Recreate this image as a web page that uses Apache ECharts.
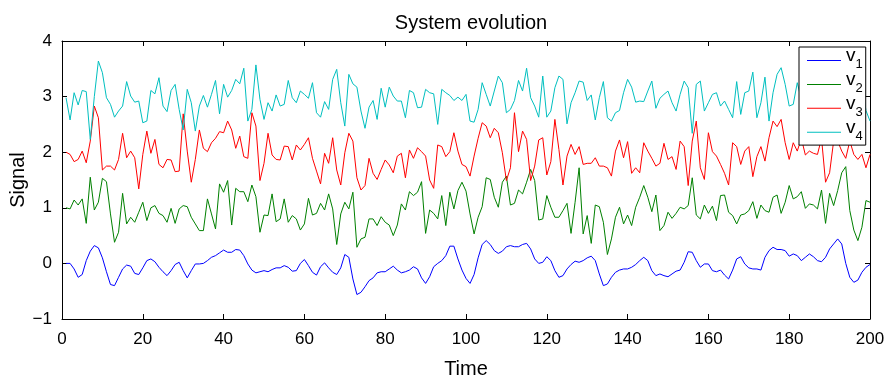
<!DOCTYPE html>
<html>
<head>
<meta charset="utf-8">
<script src="https://cdn.jsdelivr.net/npm/echarts@6/dist/echarts.min.js"></script>
<style>
html, body { margin: 0; padding: 0; background: #fff; }
#chart { width: 884px; height: 379px; }
</style>
</head>
<body>
<div id="chart"></div>
<script>
// ---- data (t = 1..200) ----
const v1 = [
  0.0, 0.0, -0.1, -0.25, -0.2, 0.05, 0.22, 0.32, 0.28, 0.1,
  -0.15, -0.38, -0.4, -0.25, -0.1, -0.03, -0.05, -0.18, -0.2, -0.08,
  0.05, 0.08, 0.03, -0.07, -0.15, -0.22, -0.13, -0.02, 0.02, -0.13,
  -0.26, -0.13, -0.01, -0.01, 0.0, 0.05, 0.11, 0.14, 0.19, 0.24,
  0.2, 0.2, 0.25, 0.24, 0.14, -0.01, -0.12, -0.17, -0.15, -0.13,
  -0.15, -0.11, -0.08, -0.08, -0.04, -0.07, -0.14, -0.13, 0.0, 0.07,
  -0.04, -0.16, -0.21, -0.06, 0.01, -0.08, -0.16, -0.2, -0.08, 0.16,
  0.11, -0.28, -0.56, -0.52, -0.42, -0.31, -0.26, -0.17, -0.15, -0.15,
  -0.1, -0.05, -0.12, -0.17, -0.15, -0.12, -0.06, -0.1, -0.26, -0.36,
  -0.24, -0.06, 0.0, 0.05, 0.14, 0.31, 0.31, 0.08, -0.12, -0.27,
  -0.36, -0.2, 0.1, 0.34, 0.41, 0.34, 0.23, 0.18, 0.22, 0.3,
  0.32, 0.3, 0.3, 0.34, 0.36, 0.26, 0.08, 0.0, 0.02, 0.12,
  0.05, -0.13, -0.25, -0.22, -0.1, -0.02, 0.04, 0.02, 0.05, 0.1,
  0.13, 0.05, -0.19, -0.4, -0.37, -0.25, -0.16, -0.12, -0.1, -0.1,
  -0.07, -0.02, 0.05, 0.11, 0.05, -0.13, -0.22, -0.19, -0.22, -0.24,
  -0.19, -0.14, -0.12, 0.02, 0.21, 0.2, 0.05, -0.07, -0.01, -0.01,
  -0.13, -0.15, -0.12, -0.21, -0.28, -0.12, 0.08, 0.12, -0.01, -0.08,
  -0.1, -0.1, -0.12, 0.11, 0.23, 0.29, 0.25, 0.25, 0.23, 0.13,
  0.17, 0.14, 0.05, 0.11, 0.17, 0.12, 0.05, 0.03, 0.11, 0.26,
  0.35, 0.44, 0.35, 0.0, -0.25, -0.34, -0.3, -0.16, -0.07, -0.02
];
const v2 = [
  1.0, 0.98, 1.14, 1.05, 1.16, 0.72, 1.55, 0.96, 1.1, 1.53,
  1.47, 0.89, 0.38, 0.56, 1.26, 0.71, 0.83, 0.74, 0.92, 1.1,
  0.77, 1.0, 1.04, 0.9, 0.86, 0.74, 0.99, 0.72, 0.98, 1.04,
  1.02, 0.83, 0.71, 0.59, 0.59, 1.16, 0.89, 0.62, 1.43, 1.28,
  1.49, 0.69, 1.35, 1.29, 1.29, 1.11, 1.41, 1.2, 0.56, 0.87,
  0.86, 1.25, 0.75, 0.8, 1.16, 0.74, 0.86, 0.8, 0.6, 0.71,
  1.17, 0.87, 0.9, 1.08, 0.96, 1.25, 0.98, 0.34, 0.89, 1.1,
  0.98, 1.28, 0.29, 0.44, 0.47, 0.8, 0.8, 0.68, 0.84, 0.74,
  0.69, 0.5, 0.69, 1.07, 0.96, 1.29, 1.22, 1.28, 1.47, 0.54,
  0.96, 0.9, 0.8, 1.22, 0.68, 1.28, 0.98, 1.31, 1.46, 1.3,
  0.89, 0.53, 0.83, 1.02, 1.54, 1.51, 1.19, 1.01, 1.46, 1.57,
  1.05, 1.08, 1.32, 1.25, 1.46, 1.69, 1.49, 0.78, 0.8, 1.22,
  1.01, 0.83, 0.83, 0.95, 1.08, 0.54, 1.1, 1.72, 0.53, 0.86,
  0.36, 1.05, 1.02, 0.74, 0.16, 0.44, 0.83, 1.01, 0.71, 0.87,
  0.68, 1.01, 1.19, 1.4, 1.19, 0.93, 1.23, 0.59, 0.68, 0.92,
  0.81, 0.9, 1.01, 0.98, 1.04, 1.54, 0.87, 0.8, 1.05, 0.9,
  1.03, 0.77, 1.22, 1.23, 0.92, 0.86, 0.71, 0.87, 0.89, 0.95,
  1.11, 0.81, 1.05, 0.95, 0.92, 1.19, 1.23, 0.9, 1.1, 1.4,
  1.16, 1.2, 1.29, 0.99, 1.07, 1.05, 0.98, 1.32, 0.72, 1.26,
  1.04, 1.31, 1.63, 1.74, 0.95, 0.6, 0.41, 0.65, 1.13, 1.1
];
const v3 = [
  2.0, 1.96, 1.83, 1.87, 2.02, 1.81, 2.2, 2.83, 2.62, 1.68,
  1.75, 1.75, 1.68, 1.87, 2.34, 1.9, 2.02, 1.9, 1.34, 1.96,
  2.38, 1.98, 2.23, 1.78, 1.72, 1.87, 1.86, 1.65, 1.66, 2.69,
  2.02, 1.46, 1.87, 2.4, 2.07, 2.01, 2.17, 2.25, 2.37, 2.35,
  2.56, 2.4, 2.07, 2.29, 1.92, 1.89, 2.71, 2.47, 1.49, 1.8,
  2.34, 1.95, 1.87, 1.86, 2.11, 2.1, 1.86, 2.13, 2.04, 2.14,
  2.26, 1.89, 1.66, 1.43, 1.98, 1.8, 2.26, 1.68, 1.41, 1.99,
  2.34, 2.2, 1.54, 1.32, 1.4, 1.89, 1.62, 1.51, 1.69, 1.86,
  1.77, 1.63, 1.93, 1.98, 1.54, 2.04, 1.89, 2.08, 2.01, 1.93,
  1.5, 1.35, 2.13, 2.1, 1.92, 2.01, 2.35, 2.02, 1.78, 1.74,
  1.57, 1.93, 2.25, 2.53, 2.47, 2.26, 2.43, 2.35, 1.99, 1.49,
  1.72, 2.71, 2.01, 2.38, 2.23, 1.49, 1.75, 2.22, 2.26, 1.59,
  1.83, 2.59, 2.05, 1.41, 1.93, 2.14, 1.96, 2.1, 1.78, 1.8,
  1.8, 1.9, 1.75, 1.75, 1.72, 1.57, 2.02, 2.22, 1.9, 2.19,
  1.62, 1.72, 1.63, 2.17, 2.02, 1.89, 1.75, 1.8, 2.16, 1.87,
  1.92, 1.69, 2.2, 2.1, 1.4, 2.2, 2.56, 1.72, 1.51, 2.35,
  2.01, 1.93, 1.78, 1.62, 1.41, 2.17, 2.1, 1.78, 2.02, 2.1,
  1.56, 1.92, 2.1, 1.84, 2.26, 2.56, 2.46, 2.59, 2.17, 1.87,
  2.17, 2.02, 2.25, 1.95, 2.02, 1.98, 1.96, 2.25, 1.46, 1.63,
  2.2, 2.2, 2.02, 1.89, 2.2, 1.96, 1.87, 1.96, 1.72, 1.96
];
const v4 = [
  2.98, 2.58, 3.07, 2.85, 3.11, 3.09, 2.23, 3.0, 3.64, 3.43,
  2.98, 2.86, 2.63, 2.74, 2.83, 3.27, 3.01, 2.9, 2.92, 2.53,
  2.56, 3.11, 3.05, 3.34, 2.83, 2.73, 3.11, 3.22, 2.77, 2.4,
  3.13, 2.89, 2.38, 2.83, 3.02, 2.81, 3.04, 3.29, 2.69, 3.22,
  2.99, 3.11, 3.31, 3.23, 3.51, 2.56, 2.77, 3.57, 2.95, 2.59,
  2.89, 2.74, 3.03, 2.83, 2.86, 3.29, 2.98, 2.89, 3.1, 3.04,
  2.97, 3.25, 2.71, 2.63, 2.91, 2.77, 3.31, 3.49, 2.89, 2.47,
  3.4, 3.23, 3.17, 2.74, 2.43, 2.81, 2.93, 2.59, 3.15, 2.81,
  3.17, 3.01, 2.92, 2.92, 2.62, 3.11, 3.07, 2.8, 2.81, 3.13,
  3.07, 3.05, 2.5, 3.13, 3.07, 3.02, 2.93, 2.99, 2.93, 3.04,
  2.56, 2.54, 2.77, 3.25, 3.04, 2.83, 3.1, 3.37, 3.25, 2.71,
  2.77, 2.93, 3.29, 3.1, 3.51, 2.98, 2.83, 2.63, 3.37, 2.63,
  2.74, 3.16, 3.37, 3.31, 2.51, 2.89, 3.07, 3.28, 3.26, 2.93,
  3.03, 2.58, 2.98, 3.27, 2.62, 2.56, 2.71, 2.75, 3.07, 3.31,
  3.17, 2.9, 2.92, 2.91, 3.1, 3.28, 2.79, 2.97, 3.04, 3.1,
  2.89, 2.74, 3.04, 3.28, 3.16, 2.34, 3.22, 3.28, 2.74, 2.89,
  3.04, 3.07, 2.83, 2.92, 2.77, 2.62, 3.27, 2.68, 3.07, 3.1,
  3.44, 2.62, 2.89, 3.35, 2.56, 3.07, 3.4, 3.52, 3.22, 2.83,
  2.86, 3.25, 2.95, 3.1, 2.8, 3.2, 3.0, 2.9, 3.3, 2.85,
  3.05, 3.15, 2.9, 3.2, 2.95, 3.1, 2.8, 3.25, 2.75, 2.56
];
const seriesNames = ['v1', 'v2', 'v3', 'v4'];
const seriesColors = ['#0000ff', '#008000', '#ff0000', '#00bfbf'];
const xRange = [0, 200, 20];   // min, max, interval
const yRange = [-1, 4, 1];

const FONT = "'Liberation Sans', Arial, sans-serif";

function toPoints(arr) {
  return arr.map((y, i) => [i + 1, y]);
}

const chart = echarts.init(document.getElementById('chart'), null, { renderer: 'canvas' });

const tickStyle = { inside: true, length: 5, lineStyle: { color: '#000', width: 1 } };
const lineStyle = { show: true, onZero: false, lineStyle: { color: '#000', width: 1 } };

const option = {
  animation: false,
  backgroundColor: '#fff',
  textStyle: { fontFamily: FONT },
  title: {
    text: 'System evolution',
    left: 466,
    textAlign: 'center',
    top: 8,
    textStyle: { fontFamily: FONT, fontSize: 20, fontWeight: 'normal', color: '#000' }
  },
  grid: {
    left: 62, top: 41, width: 808, height: 278,
    containLabel: false, outerBoundsMode: 'none'
  },
  legend: {
    data: seriesNames,
    orient: 'vertical',
    left: 799,
    top: 47,
    padding: [-0.3, 3, 2.1, 8],
    itemGap: -0.7,
    itemWidth: 34,
    itemHeight: 1,
    icon: 'rect',
    backgroundColor: '#fff',
    borderColor: '#000',
    borderWidth: 1,
    borderRadius: 0,
    z: 10,
    // "v" with a subscript index
    formatter: name => '{b|v}{s|' + name.slice(1) + '}',
    textStyle: {
      fontFamily: FONT,
      color: '#000',
      rich: {
        b: { fontSize: 19, height: 2, lineHeight: 4.4, padding: [0, 0, 8.6, 0], verticalAlign: 'middle', fontFamily: FONT },
        s: { fontSize: 13, lineHeight: 4.4, padding: [8.6, 0, 0, 0], verticalAlign: 'middle', fontFamily: FONT }
      }
    }
  },
  xAxis: [{
    type: 'value',
    min: xRange[0], max: xRange[1], interval: xRange[2],
    name: 'Time',
    nameLocation: 'middle',
    nameGap: 40,
    nameMoveOverlap: false,
    nameTextStyle: { fontFamily: FONT, fontSize: 20, color: '#000' },
    axisLine: lineStyle,
    axisTick: tickStyle,
    axisLabel: { color: '#000', fontFamily: FONT, fontSize: 17, margin: 12 },
    splitLine: { show: false }
  }, {
    type: 'value', position: 'top',
    min: xRange[0], max: xRange[1], interval: xRange[2],
    axisLine: lineStyle,
    axisTick: tickStyle,
    axisLabel: { show: false },
    splitLine: { show: false }
  }],
  yAxis: [{
    type: 'value',
    min: yRange[0], max: yRange[1], interval: yRange[2],
    name: 'Signal',
    nameLocation: 'middle',
    nameGap: 34,
    nameMoveOverlap: false,
    nameRotate: 90,
    nameTextStyle: { fontFamily: FONT, fontSize: 20, color: '#000' },
    axisLine: lineStyle,
    axisTick: tickStyle,
    axisLabel: {
      color: '#000', fontFamily: FONT, fontSize: 17, margin: 10,
      formatter: v => String(v).replace('-', '\u2212')
    },
    splitLine: { show: false }
  }, {
    type: 'value', position: 'right',
    min: yRange[0], max: yRange[1], interval: yRange[2],
    axisLine: lineStyle,
    axisTick: tickStyle,
    axisLabel: { show: false },
    splitLine: { show: false }
  }],
  series: [v1, v2, v3, v4].map((arr, k) => ({
    name: seriesNames[k],
    type: 'line',
    data: toPoints(arr),
    symbol: 'none',
    color: seriesColors[k],
    lineStyle: { color: seriesColors[k], width: 1 },
    z: 2
  }))
};

chart.setOption(option);
</script>
</body>
</html>
